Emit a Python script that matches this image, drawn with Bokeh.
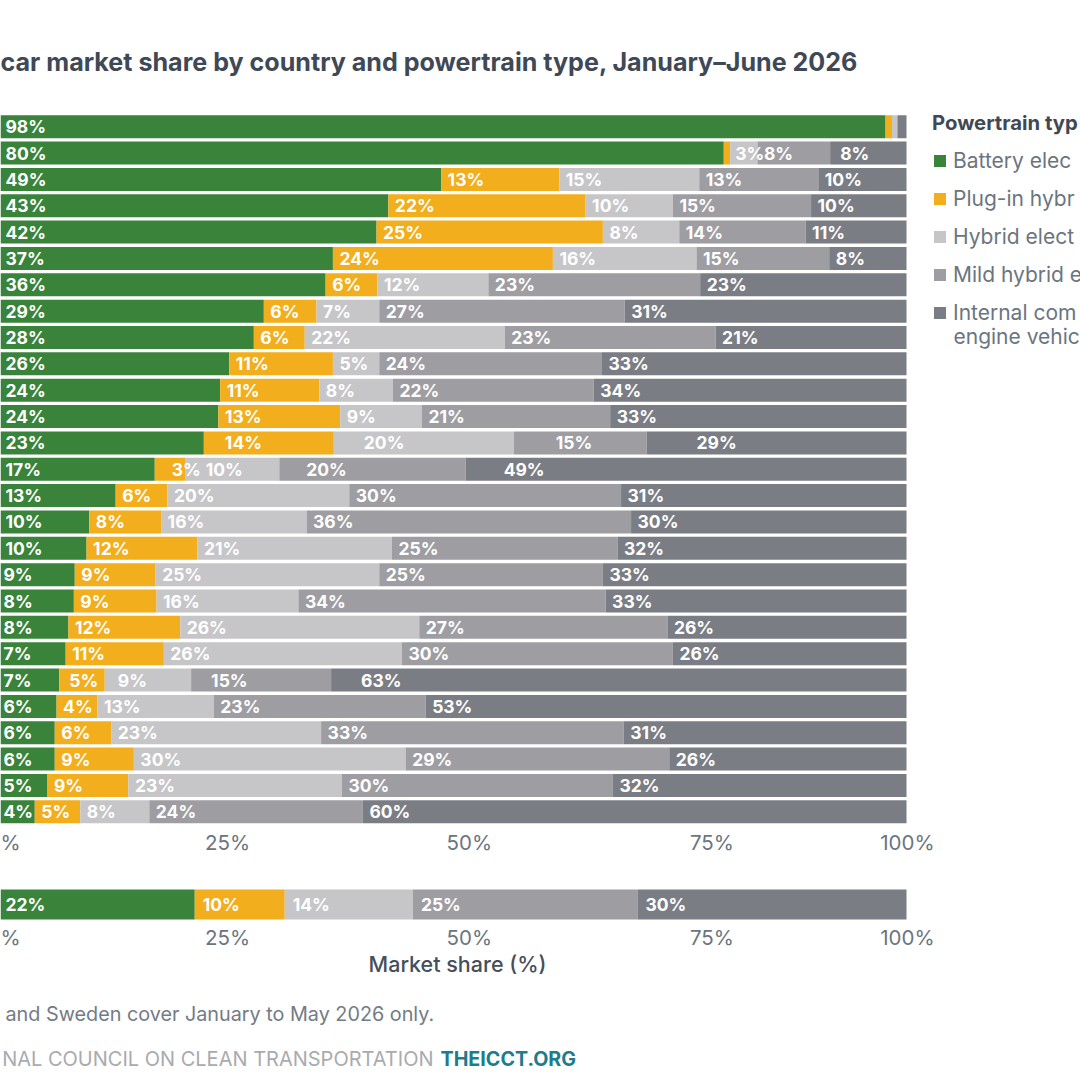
from bokeh.core.properties import value
from bokeh.embed import file_html
from bokeh.resources import INLINE
from bokeh.models import (ColumnDataSource, FixedTicker, Label, Legend, LegendItem, LinearAxis, Range1d)
from bokeh.plotting import figure

# ---- data (percent of market) ----
bev = [97.7, 79.9, 48.8, 43.0, 41.7, 36.9, 36.1, 29.3, 28.2, 25.5, 24.5, 24.3, 22.7, 17.3, 13.0, 10.1, 9.8, 8.5, 8.4, 7.8, 7.5, 6.8, 6.5, 6.3, 6.3, 5.5, 4.1]
phev = [0.7, 0.7, 13.0, 21.7, 24.9, 24.2, 5.7, 5.8, 5.6, 11.4, 10.9, 13.4, 14.3, 3.4, 5.7, 7.9, 12.2, 8.9, 9.1, 12.3, 10.8, 5.0, 4.5, 6.2, 8.7, 8.9, 5.0]
hev = [0.6, 3.0, 15.4, 9.6, 8.4, 15.8, 12.2, 6.9, 22.0, 5.1, 8.1, 9.0, 19.8, 10.3, 20.0, 16.0, 21.4, 24.6, 15.6, 26.3, 26.2, 9.5, 12.8, 23.1, 29.9, 23.5, 7.6]
mhev = [0.0, 8.0, 13.1, 15.2, 13.9, 14.6, 23.3, 27.0, 23.2, 24.5, 22.1, 20.7, 14.6, 20.5, 29.9, 35.7, 24.8, 24.6, 33.8, 27.3, 29.8, 15.4, 23.3, 33.3, 29.0, 29.8, 23.5]
ice = [1.0, 8.4, 9.7, 10.5, 11.1, 8.5, 22.7, 31.0, 21.0, 33.5, 34.4, 32.6, 28.6, 48.5, 31.4, 30.3, 31.8, 33.4, 33.1, 26.3, 25.7, 63.3, 52.9, 31.1, 26.1, 32.3, 59.8]
total = [21.7, 9.9, 14.1, 24.7, 29.6]

bev_labels = [98, 80, 49, 43, 42, 37, 36, 29, 28, 26, 24, 24, 23, 17, 13, 10, 10, 9, 8, 8, 7, 7, 6, 6, 6, 5, 4]
phev_labels = [None, None, 13, 22, 25, 24, 6, 6, 6, 11, 11, 13, 14, 3, 6, 8, 12, 9, 9, 12, 11, 5, 4, 6, 9, 9, 5]
hev_labels = [None, 3, 15, 10, 8, 16, 12, 7, 22, 5, 8, 9, 20, 10, 20, 16, 21, 25, 16, 26, 26, 9, 13, 23, 30, 23, 8]
mhev_labels = [None, 8, 13, 15, 14, 15, 23, 27, 23, 24, 22, 21, 15, 20, 30, 36, 25, 25, 34, 27, 30, 15, 23, 33, 29, 30, 24]
ice_labels = [None, 8, 10, 10, 11, 8, 23, 31, 21, 33, 34, 33, 29, 49, 31, 30, 32, 33, 33, 26, 26, 63, 53, 31, 26, 32, 60]
total_labels = [22, 10, 14, 25, 30]

series_names = ["Battery elec", "Plug-in hybr", "Hybrid elect", "Mild hybrid e", "Internal com"]
tick_labels = ["%", "25%", "50%", "75%", "100%"]
tick_values = [1.1, 25.3, 51.9, 78.6, 100.1]

# ---- styles and layout ----
colors = ["#3a833a", "#f2ae1c", "#c6c6c8", "#9e9da2", "#7b7d84"]
W, H = 1080, 1080
PX_PER_PCT = 9.09
X0 = -3.0
ROW0, ROW_STEP = 126.2, 26.35
def X(px): return (px - X0) / PX_PER_PCT
def Y(py): return (py - ROW0) / ROW_STEP
FONT = "Inter"

p = figure(width=W, height=H, output_backend="svg", toolbar_location=None,
           x_range=Range1d(X(0), X(W)), y_range=Range1d(Y(H), Y(0)),
           x_axis_location=None, y_axis_location=None, min_border=0,
           outline_line_color=None, background_fill_color="white", margin=(0, 0, 0, 0))
p.grid.visible = False

rows = list(range(27))
total_row = Y(904)
keys = ["bev", "phev", "hev", "mhev", "ice"]
all_values = [bev, phev, hev, mhev, ice]
all_labels = [bev_labels, phev_labels, hev_labels, mhev_labels, ice_labels]
data = {k: v + [total[i]] for i, (k, v) in enumerate(zip(keys, all_values))}
data["row"] = rows + [total_row]
data["h"] = [23 / ROW_STEP] * 27 + [30 / ROW_STEP]
renderers = p.hbar_stack(keys, y="row", height="h", source=ColumnDataSource(data), color=colors, line_color=None)

# value labels: left-aligned inside each segment, some pushed in further
offsets = {(1, 2): 5, (1, 4): 10, (12, 1): 21, (12, 2): 30, (12, 3): 42, (12, 4): 50,
           (13, 1): 17, (13, 2): 20, (13, 3): 27, (13, 4): 38,
           (21, 1): 10, (21, 2): 13, (21, 3): 20, (21, 4): 30}
lx, ly, lt, lo = [], [], [], []
for r in range(28):
    start = 0.0
    for s in range(5):
        val = total[s] if r == 27 else all_values[s][r]
        lab = total_labels[s] if r == 27 else all_labels[s][r]
        if lab is not None:
            lx.append(start); ly.append(data["row"][r]); lt.append(f"{lab}%")
            default = 8 if s == 0 and lab >= 10 else 6 if s == 0 else 8 if r == 27 else 6.5
            lo.append(offsets.get((r, s), default))
        start += val
p.text(x="x", y="y", text="t", x_offset="o", source=ColumnDataSource(dict(x=lx, y=ly, t=lt, o=lo)),
       text_color="white", text_font=value(FONT), text_font_style="bold", text_font_size="17.5px",
       text_baseline="middle", text_align="left")

# axes
for loc in (Y(815), Y(910)):
    ax = LinearAxis(fixed_location=loc, ticker=FixedTicker(ticks=tick_values),
                    major_label_overrides=dict(zip(tick_values, tick_labels)),
                    major_tick_line_color=None, minor_tick_line_color=None, axis_line_color=None,
                    major_label_standoff=8, major_label_text_font=FONT, major_label_text_font_size="20.5px",
                    major_label_text_color="#6b7580", major_label_text_font_style="normal")
    p.add_layout(ax, "below")

# legend
legend = Legend(items=[LegendItem(label=n, renderers=[r]) for n, r in zip(series_names, renderers)],
                location=(932, H - 325), orientation="vertical", background_fill_alpha=0, border_line_color=None,
                padding=0, margin=0, spacing=13, glyph_width=15, glyph_height=15, label_standoff=6,
                label_text_font=FONT, label_text_font_size="21px", label_text_color="#6b7580",
                title="Powertrain typ", title_text_font=FONT, title_text_font_style="bold",
                title_text_font_size="20.3px", title_text_color="#3f4955", title_standoff=13)
p.add_layout(legend)

def text(px, py, s, size, color, style="normal", align="left", font=FONT):
    p.add_layout(Label(x=X(px), y=Y(py), text=s, text_font=font, text_font_size=size, text_color=color,
                       text_font_style=style, text_baseline="middle", text_align=align))

text(953, 336, "engine vehic", "21px", "#6b7580")
text(0, 61, "car market share by country and powertrain type, January\u2013June 2026", "25.1px", "#3f4955", "bold")
text(457, 963, "Market share (%)", "21.5px", "#454f5a", "normal", "center", "Inter Medium")
text(5, 1013, "and Sweden cover January to May 2026 only.", "19.8px", "#737b84")
text(433, 1058, "NAL COUNCIL ON CLEAN TRANSPORTATION", "20px", "#a9abae", "normal", "right")
text(440, 1058, "THEICCT.ORG", "19.7px", "#1d7c8e", "bold")

open("out.html", "w").write(file_html(p, INLINE))
